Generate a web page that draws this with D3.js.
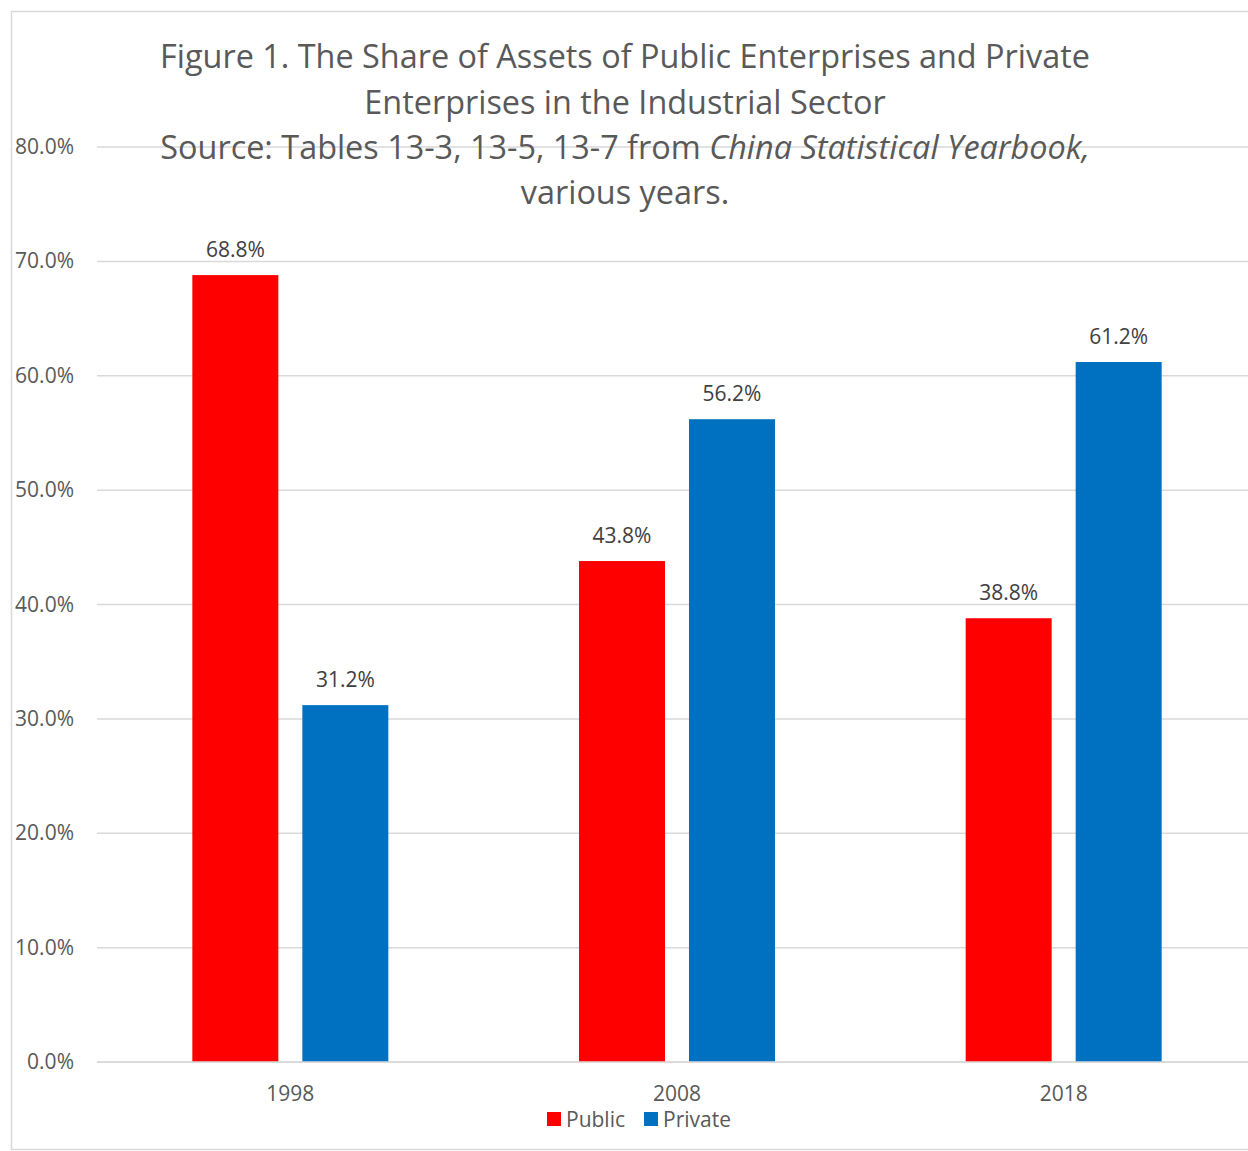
<!doctype html>
<html>
<head>
<script src="https://cdnjs.cloudflare.com/ajax/libs/d3/7.8.5/d3.min.js"></script>
<style>
  body { margin: 0; background: #fff; }
  svg text { font-family: "Open Sans", "Noto Sans", sans-serif; }
</style>
</head>
<body>
<svg id="chart" width="1248" height="1151"></svg>
<script>
var years = ["1998", "2008", "2018"];
var series = ["Public", "Private"];
var publicShare = [68.8, 43.8, 38.8];
var privateShare = [31.2, 56.2, 61.2];
var yTicks = [0, 10, 20, 30, 40, 50, 60, 70, 80];
var colors = ["#ff0000", "#0070c0"];

var svg = d3.select("#chart");

// chart area border (right edge runs off the page)
svg.append("rect")
    .attr("x", 11.5).attr("y", 11.5)
    .attr("width", 1300).attr("height", 1138)
    .attr("fill", "none").attr("stroke", "#d9d9d9").attr("stroke-width", 1.5);

var x = d3.scaleBand().domain(years).range([97, 1257]);
var y = d3.scaleLinear().domain([0, 80]).range([1062, 147]);
var barW = 86, gap = 24;

// gridlines
svg.selectAll("line.grid")
    .data(yTicks)
    .enter()
    .append("line")
        .attr("x1", 97).attr("x2", 1260)
        .attr("y1", d => y(d)).attr("y2", d => y(d))
        .style("stroke", "#d9d9d9").style("stroke-width", 1.5);

svg.selectAll("text.ytick")
    .data(yTicks)
    .enter()
    .append("text")
        .attr("x", 74).attr("y", d => y(d) + 7)
        .attr("text-anchor", "end")
        .style("font-size", "21px").style("fill", "#595959")
        .text(d => d.toFixed(1) + "%");

var values = [publicShare, privateShare];
series.forEach((s, si) => {
    var offset = si === 0 ? -gap / 2 - barW : gap / 2;
    svg.selectAll("rect.s" + si)
        .data(values[si])
        .enter()
        .append("rect")
            .attr("x", (d, i) => x(years[i]) + x.bandwidth() / 2 + offset)
            .attr("y", d => y(d))
            .attr("width", barW)
            .attr("height", d => y(0) - y(d))
            .style("fill", colors[si]);

    svg.selectAll("text.lab" + si)
        .data(values[si])
        .enter()
        .append("text")
            .attr("x", (d, i) => x(years[i]) + x.bandwidth() / 2 + offset + barW / 2)
            .attr("y", d => y(d) - 18)
            .attr("text-anchor", "middle")
            .style("font-size", "21px").style("fill", "#404040")
            .text(d => d.toFixed(1) + "%");
});

// baseline redrawn over bars
svg.append("line")
    .attr("x1", 97).attr("x2", 1260)
    .attr("y1", y(0)).attr("y2", y(0))
    .style("stroke", "#d9d9d9").style("stroke-width", 1.5);

svg.selectAll("text.xtick")
    .data(years)
    .enter()
    .append("text")
        .attr("x", d => x(d) + x.bandwidth() / 2)
        .attr("y", 1101)
        .attr("text-anchor", "middle")
        .style("font-size", "21px").style("fill", "#595959")
        .text(d => d);

// title
var title = svg.append("text")
    .attr("text-anchor", "middle")
    .style("font-size", "32.4px").style("fill", "#595959");
title.append("tspan").attr("x", 625).attr("y", 68)
    .text("Figure 1. The Share of Assets of Public Enterprises and Private");
title.append("tspan").attr("x", 625).attr("y", 114)
    .text("Enterprises in the Industrial Sector");
var l3 = title.append("tspan").attr("x", 625).attr("y", 159);
l3.append("tspan").text("Source: Tables 13-3, 13-5, 13-7 from ");
l3.append("tspan").style("font-style", "italic").text("China Statistical Yearbook,");
title.append("tspan").attr("x", 625).attr("y", 204).text("various years.");

// legend
var legend = svg.append("g");
var legX = [547, 644];
series.forEach((s, i) => {
    legend.append("rect")
        .attr("x", legX[i]).attr("y", 1112)
        .attr("width", 14).attr("height", 14)
        .style("fill", colors[i]);
    legend.append("text")
        .attr("x", legX[i] + 19).attr("y", 1127)
        .style("font-size", "21px").style("fill", "#595959")
        .text(s);
});
</script>
</body>
</html>
